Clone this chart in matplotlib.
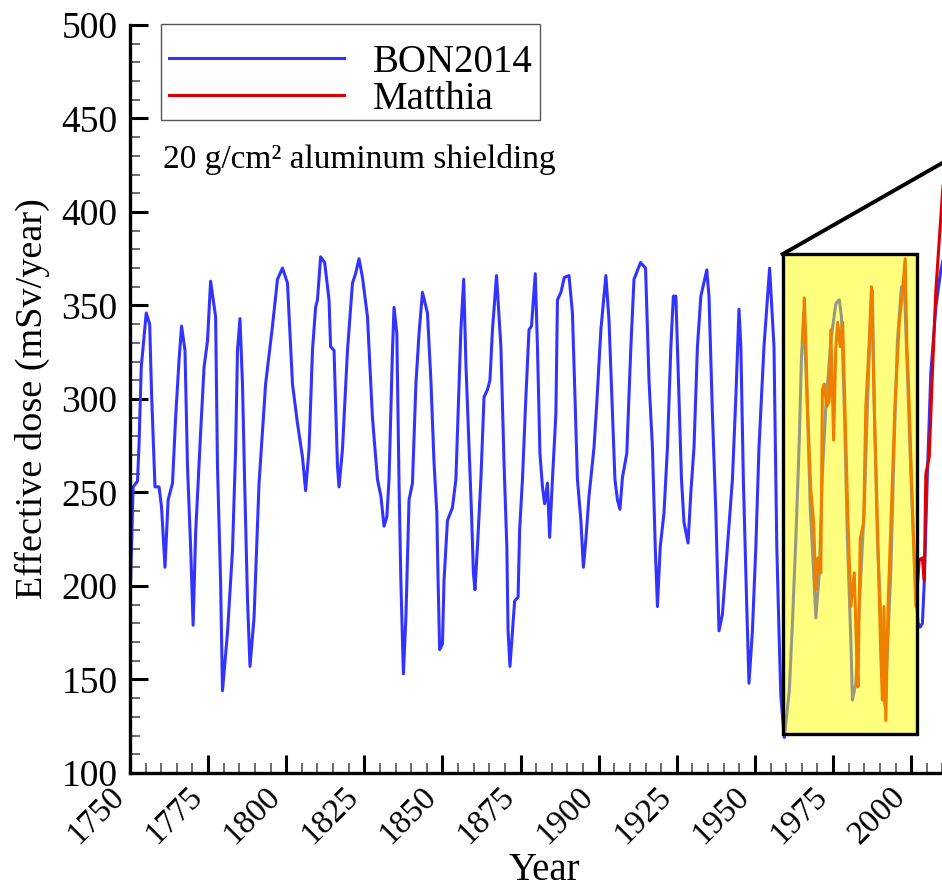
import matplotlib
matplotlib.use('Agg')
import matplotlib.pyplot as plt
from matplotlib.patches import Rectangle
from matplotlib.ticker import MultipleLocator

plt.rcParams['font.family'] = ['Liberation Serif', 'DejaVu Serif']

# BON2014 effective dose
bon_year = [1750.2, 1751.0, 1752.4, 1752.9, 1753.6, 1754.5, 1755.2, 1756.3, 1756.9, 1758.0,
            1759.3, 1760.1, 1761.2, 1762.2, 1763.6, 1764.6, 1765.7, 1766.5, 1767.6, 1768.4,
            1769.4, 1770.2, 1771.0, 1772.6, 1773.7, 1774.8, 1775.8, 1777.4, 1778.0, 1779.0,
            1779.6, 1781.2, 1782.8, 1783.8, 1784.4, 1785.2, 1786.0, 1786.7, 1787.6, 1788.4,
            1789.7, 1791.3, 1793.4, 1795.6, 1797.2, 1798.8, 1800.4, 1802.0, 1803.6, 1805.2,
            1806.2, 1807.3, 1808.4, 1809.4, 1810.0, 1811.0, 1812.3, 1813.7, 1814.2, 1815.3,
            1816.4, 1816.9, 1818.0, 1819.6, 1821.2, 1822.2, 1823.3, 1824.4, 1826.0, 1827.6,
            1829.2, 1830.3, 1831.3, 1832.2, 1832.9, 1834.0, 1834.5, 1835.4, 1836.1, 1836.7,
            1837.5, 1838.3, 1839.3, 1840.4, 1841.5, 1842.5, 1843.6, 1845.2, 1846.3, 1847.3,
            1848.2, 1848.6, 1849.1, 1850.0, 1850.5, 1851.6, 1853.2, 1854.3, 1855.0, 1855.9,
            1856.8, 1857.5, 1858.5, 1859.3, 1859.9, 1860.4, 1861.2, 1862.3, 1863.3, 1864.4,
            1865.2, 1866.0, 1867.3, 1868.7, 1869.7, 1870.6, 1871.0, 1871.6, 1872.4, 1873.1,
            1874.2, 1874.7, 1875.6, 1876.7, 1877.7, 1878.5, 1879.7, 1880.4, 1881.2, 1882.0,
            1882.7, 1883.6, 1884.3, 1885.2, 1886.3, 1886.8, 1887.9, 1889.0, 1890.5, 1891.6,
            1892.4, 1893.2, 1894.3, 1895.1, 1895.9, 1896.9, 1898.5, 1899.4, 1900.7, 1901.7,
            1902.3, 1903.3, 1904.4, 1905.2, 1906.0, 1906.8, 1907.6, 1909.0, 1910.3, 1911.3,
            1913.4, 1915.0, 1916.1, 1917.2, 1918.1, 1918.8, 1919.7, 1920.9, 1922.0, 1923.1,
            1923.9, 1924.7, 1925.7, 1926.5, 1927.3, 1928.6, 1929.5, 1930.5, 1931.6, 1932.7,
            1934.6, 1935.3, 1936.4, 1937.5, 1938.5, 1939.6, 1941.2, 1942.8, 1943.9, 1944.9,
            1945.5, 1946.3, 1947.3, 1948.1, 1949.2, 1950.3, 1951.3, 1952.9, 1954.7, 1956.1,
            1957.0, 1957.7, 1958.3, 1959.4, 1961.0, 1962.0, 1963.1, 1964.2, 1964.9, 1965.6,
            1966.8, 1967.7, 1968.8, 1969.5, 1970.6, 1971.6, 1972.7, 1974.3, 1975.9, 1977.0,
            1977.7, 1978.6, 1979.6, 1980.7, 1981.2, 1982.3, 1983.4, 1985.0, 1986.0, 1987.1,
            1987.6, 1988.2, 1989.2, 1990.8, 1991.6, 1993.5, 1994.6, 1995.6, 1996.9, 1997.8,
            1998.8, 1999.9, 2001.2, 2002.2, 2002.9, 2003.6, 2004.2, 2005.2, 2006.3, 2007.9,
            2009.5, 2011.0]
bon_dose = [203, 253, 256, 276, 317, 333, 346, 340, 303, 253,
            253, 242, 210, 246, 255, 290, 321, 339, 326, 264,
            221, 179, 228, 282, 317, 331, 363, 344, 264, 202,
            144, 175, 219, 273, 326, 343, 308, 255, 193, 157,
            183, 255, 308, 339, 364, 370, 362, 308, 287, 269,
            251, 273, 326, 349, 353, 376, 373, 353, 328, 326,
            264, 253, 273, 326, 362, 367, 375, 365, 344, 290,
            257, 248, 232, 237, 257, 326, 349, 335, 255, 202,
            153, 183, 246, 255, 308, 335, 357, 346, 310, 266,
            239, 203, 166, 169, 203, 235, 242, 257, 292, 337,
            364, 319, 274, 239, 207, 198, 221, 257, 301, 305,
            310, 337, 366, 328, 266, 221, 176, 157, 176, 192,
            194, 230, 257, 301, 337, 339, 367, 328, 271, 253,
            244, 255, 226, 257, 292, 353, 357, 365, 366, 346,
            301, 257, 235, 210, 225, 248, 274, 298, 337, 355,
            366, 342, 292, 257, 246, 241, 258, 271, 328, 364,
            373, 370, 310, 274, 221, 189, 221, 239, 274, 328,
            355, 355, 301, 257, 234, 223, 250, 274, 328, 355,
            369, 355, 292, 239, 176, 185, 221, 257, 301, 348,
            328, 257, 194, 148, 176, 221, 274, 328, 370, 328,
            221, 176, 141, 119, 144, 180, 225, 278, 322, 346,
            296, 242, 207, 183, 207, 260, 296, 331, 351, 353,
            344, 296, 225, 171, 139, 148, 189, 242, 296, 349,
            358, 296, 225, 162, 136, 207, 278, 331, 360, 361,
            314, 260, 207, 180, 178, 180, 202, 260, 314, 349,
            369, 380]

# Matthia model
mat_year = [1965.4, 1965.8, 1966.3, 1966.8, 1967.9, 1968.8, 1969.5, 1970.2, 1971.1, 1971.6,
            1972.2, 1973.0, 1973.8, 1974.3, 1975.2, 1975.9, 1976.5, 1977.3, 1978.1, 1978.8,
            1979.8, 1980.7, 1981.8, 1982.6, 1983.0, 1983.7, 1984.8, 1985.5, 1986.6, 1987.3,
            1988.2, 1989.2, 1990.3, 1990.8, 1991.3, 1991.9, 1992.6, 1993.7, 1994.8, 1996.2,
            1997.2, 1998.1, 1998.6, 1999.4, 2000.4, 2001.5, 2002.6, 2003.6, 2004.2, 2004.7,
            2005.8, 2006.8, 2007.9, 2009.0, 2010.1, 2011.5]
mat_dose = [331, 354, 331, 296, 251, 234, 198, 215, 207, 305,
            308, 296, 299, 337, 278, 328, 341, 328, 341, 296,
            234, 189, 207, 162, 146, 225, 234, 296, 331, 360,
            296, 234, 162, 139, 189, 128, 189, 242, 296, 341,
            357, 375, 331, 296, 242, 189, 214, 215, 203, 260,
            269, 314, 358, 385, 412, 440]

# highlighted window and zoom line
box_years = [1958.9, 2001.9]
box_dose = [121, 377.5]
zoom_years = [1958.9, 2015]
zoom_dose = [377.5, 431]

fig = plt.figure(figsize=(9.42, 8.89), dpi=100)
ax = fig.add_axes([0.138, 0.1305, 0.879, 0.8414])

ax.plot(bon_year, bon_dose, color='#3333ff', lw=2.2, label='BON2014')
ax.plot(mat_year, mat_dose, color='#dd0000', lw=2.2, label='Matthia')

plt.rcParams['hatch.color'] = '#ffff00'
plt.rcParams['hatch.linewidth'] = 0.8
ax.add_patch(Rectangle((box_years[0], box_dose[0]), box_years[1] - box_years[0],
                       box_dose[1] - box_dose[0], facecolor=(1, 1, 0, 0.5),
                       edgecolor='none', hatch='||', zorder=3))
ax.add_patch(Rectangle((box_years[0], box_dose[0]), box_years[1] - box_years[0],
                       box_dose[1] - box_dose[0], facecolor='none',
                       edgecolor='black', lw=2.4, zorder=4))
ax.plot(zoom_years, zoom_dose, color='black', lw=2.8, zorder=4)

ax.set_xlim(1750, 2015)
ax.set_ylim(100, 500)
ax.xaxis.set_major_locator(MultipleLocator(25))
ax.xaxis.set_minor_locator(MultipleLocator(5))
ax.yaxis.set_major_locator(MultipleLocator(50))
ax.yaxis.set_minor_locator(MultipleLocator(10))

for s in ['top', 'right']:
    ax.spines[s].set_visible(False)
for s in ['left', 'bottom']:
    ax.spines[s].set_linewidth(2.4)

ax.tick_params(which='major', direction='in', length=13, width=2.2)
ax.tick_params(which='minor', direction='in', length=7, width=1.1, color='#444444')
ax.tick_params(axis='y', which='major', pad=9, labelsize=27)
ax.tick_params(axis='x', which='major', pad=6, labelsize=24)
plt.setp(ax.get_xticklabels(), rotation=45, ha='right', rotation_mode='default')

ax.set_xlabel('Year', fontsize=28)
ax.set_ylabel('Effective dose (mSv/year)', fontsize=27.5)
ax.xaxis.set_label_coords(0.5, -0.106)
ax.yaxis.set_label_coords(-0.097, 0.5)

# legend without its own frame; the frame box is drawn separately
leg = ax.legend(loc='upper left', bbox_to_anchor=(0.0374, 0.9853), borderaxespad=0,
                fontsize=28, handlelength=4.5, handletextpad=0.75, labelspacing=0.0,
                borderpad=0.2, frameon=False)
ax.add_patch(Rectangle((0.0374, 0.873), 0.4578, 0.1283, transform=ax.transAxes,
                       facecolor='white', edgecolor='#555555', lw=1.0,
                       clip_on=False, zorder=5))
leg.set_zorder(6)

ax.text(0.04, 0.82, '20 g/cm\u00b2 aluminum shielding', transform=ax.transAxes,
        fontsize=24, ha='left', va='center')

fig.savefig('out.png', dpi=100)
